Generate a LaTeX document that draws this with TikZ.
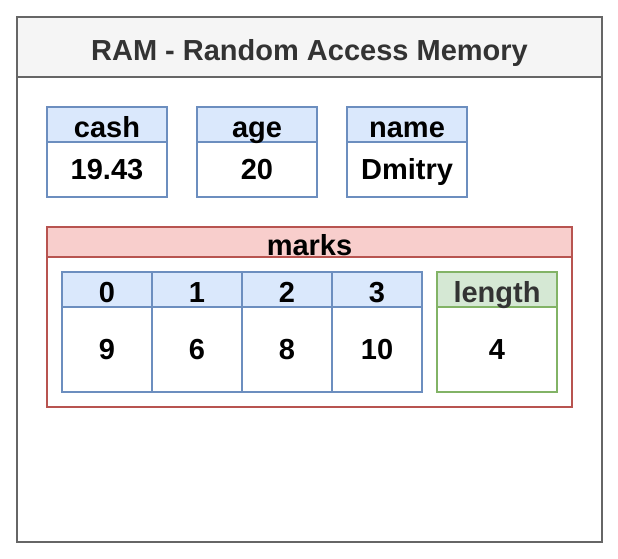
\documentclass[tikz,border=0pt]{standalone}
\usepackage{fontspec}
\setmainfont{Liberation Sans}
\begin{document}
\begin{tikzpicture}[x=1pt,y=-1pt,
  t/.style={font=\fontsize{29}{34}\selectfont\bfseries,anchor=base,inner sep=0pt},
  bl/.style={draw=blue6,line width=1.5pt},
  rd/.style={draw=red6,line width=1.5pt},
  gr/.style={draw=green6,line width=1.5pt}]
\definecolor{blue6}{HTML}{6C8EBF}\definecolor{blueF}{HTML}{DAE8FC}
\definecolor{red6}{HTML}{B85450}\definecolor{redF}{HTML}{F8CECC}
\definecolor{green6}{HTML}{82B366}\definecolor{greenF}{HTML}{D5E8D4}
\definecolor{dark}{HTML}{333333}
\useasboundingbox (0,0) rectangle (618,558);
\fill[white] (17,17) rectangle (602,542);
\fill[black!4] (17,17) rectangle (602,77);
\draw[draw=black!60,line width=2pt] (17,17) rectangle (602,542) (17,77) -- (602,77);
\node[t,text=dark] (title) at (309.5,60) {RAM - Random Access Memory};
\foreach \x/\n/\v/\id in {47/cash/19.43/a,197/age/20/b,347/name/Dmitry/c}{
  \fill[blueF] (\x,107) rectangle ++(120,35);
  \draw[bl] (\x,107) rectangle ++(120,90) (\x,142) -- ++(120,0);
  \node[t] (h\id) at (\x+60,137) {\n};
  \node[t] (v\id) at (\x+60,179) {\v};
}
\fill[redF] (47,227) rectangle (572,257);
\draw[rd] (47,227) rectangle (572,407) (47,257) -- (572,257);
\node[t] (marks) at (309.5,255) {marks};
\foreach \x/\i/\v in {62/0/9,152/1/6,242/2/8,332/3/10}{
  \fill[blueF] (\x,272) rectangle ++(90,35);
  \draw[bl] (\x,272) rectangle ++(90,120) (\x,307) -- ++(90,0);
  \node[t] (i\i) at (\x+45,302) {\i};
  \node[t] (m\i) at (\x+45,359) {\v};
}
\fill[greenF] (437,272) rectangle ++(120,35);
\draw[gr] (437,272) rectangle ++(120,120) (437,307) -- ++(120,0);
\node[t,text=dark] (len) at (497,302) {length};
\node[t] (lenv) at (497,359) {4};
\end{tikzpicture}
\end{document}
